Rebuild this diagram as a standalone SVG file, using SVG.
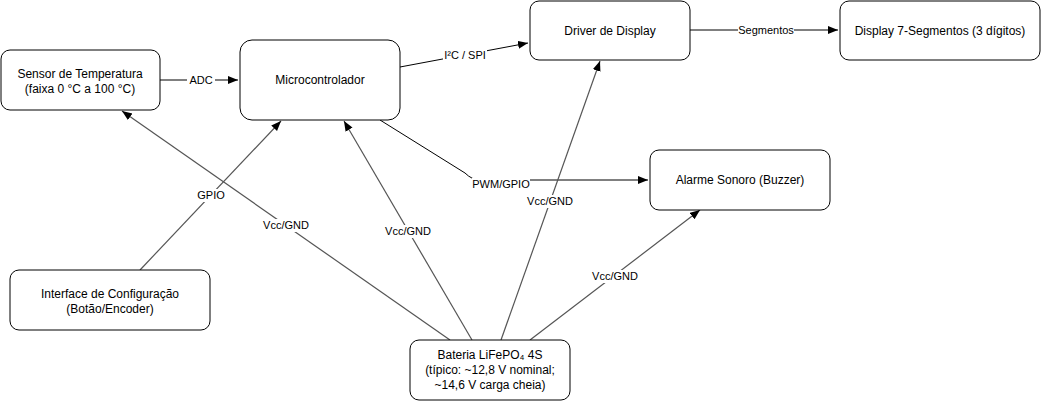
<svg xmlns="http://www.w3.org/2000/svg" width="1041" height="401" viewBox="0 0 1041 401">
<style>
.node rect{fill:#fff;stroke:#000;stroke-width:1}
.node text{font-family:"Liberation Sans",Arial,sans-serif;font-size:12px;fill:#000;text-anchor:middle}
.e{fill:none;stroke:#000;stroke-width:1}
.p{fill:none;stroke:#555;stroke-width:1.2}
.lbl{font-family:"Liberation Sans",Arial,sans-serif;font-size:11px;fill:#000;text-anchor:middle}
.bg{fill:#fff}
</style>
<defs>
<marker id="arr" markerUnits="userSpaceOnUse" markerWidth="12" markerHeight="10" refX="10" refY="4" orient="auto">
<path d="M0,0 L10,4 L0,8 Z" fill="#000"/>
</marker>
</defs>
<rect width="1041" height="401" fill="#fff"/>
<g id="connectors">
<path class="e" d="M160,80 L238,80" marker-end="url(#arr)"/>
<path class="e" d="M400,67 L528,43" marker-end="url(#arr)"/>
<path class="e" d="M690,30 L838,30" marker-end="url(#arr)"/>
<path class="e" d="M380,120 L465,173 Q472,180 480,180 L648,180" marker-end="url(#arr)"/>
<path class="p" d="M140,270 L281,121" marker-end="url(#arr)"/>
<path class="p" d="M450,340 L122,111" marker-end="url(#arr)"/>
<path class="p" d="M472,340 L344,121" marker-end="url(#arr)"/>
<path class="p" d="M501,340 L600,61" marker-end="url(#arr)"/>
<path class="p" d="M530,340 L700,210" marker-end="url(#arr)"/>
<rect class="bg" x="187" y="74" width="28" height="13"/>
<text class="lbl" x="201" y="84">ADC</text>
<rect class="bg" x="443" y="49" width="44" height="13"/>
<text class="lbl" x="465" y="59">I²C / SPI</text>
<rect class="bg" x="738" y="24" width="56" height="13"/>
<text class="lbl" x="766" y="34">Segmentos</text>
<rect class="bg" x="472" y="178" width="58" height="13"/>
<text class="lbl" x="501" y="188">PWM/GPIO</text>
<rect class="bg" x="196" y="189" width="30" height="13"/>
<text class="lbl" x="211" y="199">GPIO</text>
<rect class="bg" x="262" y="219" width="48" height="13"/>
<text class="lbl" x="286" y="229">Vcc/GND</text>
<rect class="bg" x="384" y="225" width="48" height="13"/>
<text class="lbl" x="408" y="235">Vcc/GND</text>
<rect class="bg" x="526" y="195" width="48" height="13"/>
<text class="lbl" x="550" y="205">Vcc/GND</text>
<rect class="bg" x="591" y="270" width="48" height="13"/>
<text class="lbl" x="615" y="280">Vcc/GND</text>
</g>
<g id="sensor" class="node"><rect x="1" y="50" width="159" height="60" rx="9"/><text x="80" y="78">Sensor de Temperatura</text><text x="80" y="93">(faixa 0 °C a 100 °C)</text></g>
<g id="micro" class="node"><rect x="240" y="40" width="160" height="80" rx="12"/><text x="320" y="84">Microcontrolador</text></g>
<g id="driver" class="node"><rect x="530" y="1" width="160" height="59" rx="9"/><text x="610" y="35">Driver de Display</text></g>
<g id="display" class="node"><rect x="840" y="1" width="200" height="59" rx="9"/><text x="940" y="35">Display 7-Segmentos (3 dígitos)</text></g>
<g id="alarme" class="node"><rect x="650" y="150" width="180" height="60" rx="9"/><text x="740" y="184">Alarme Sonoro (Buzzer)</text></g>
<g id="interface" class="node"><rect x="10" y="270" width="200" height="60" rx="9"/><text x="110" y="298">Interface de Configuração</text><text x="110" y="313">(Botão/Encoder)</text></g>
<g id="bateria" class="node"><rect x="410" y="340" width="160" height="60" rx="9"/><text x="490" y="359">Bateria LiFePO₄ 4S</text><text x="490" y="374">(típico: ~12,8 V nominal;</text><text x="490" y="389">~14,6 V carga cheia)</text></g>
</svg>
